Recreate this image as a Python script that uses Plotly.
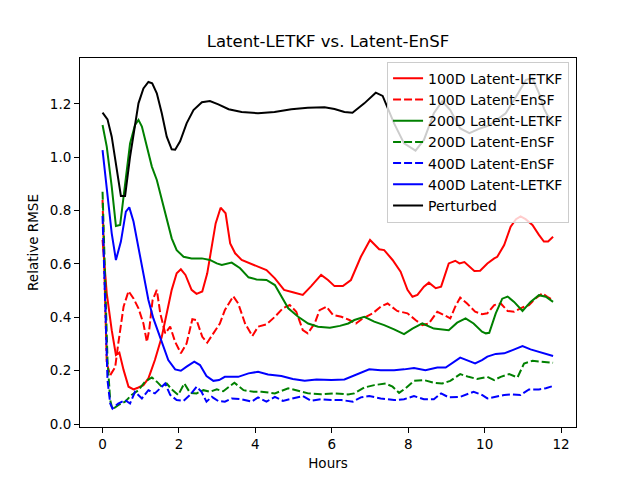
import plotly.graph_objects as go

# 100D Latent-LETKF (red solid)
hours_100_letkf = [0.0, 0.11, 0.24, 0.35, 0.44, 0.55, 0.68, 0.81, 0.94, 1.07, 1.2, 1.37, 1.55, 1.68, 1.81, 1.94,
                   2.05, 2.17, 2.33, 2.46, 2.61, 2.74, 2.86, 2.96, 3.09, 3.22, 3.34, 3.47, 3.64, 3.86, 4.07, 4.29,
                   4.51, 4.75, 4.98, 5.24, 5.46, 5.72, 5.9, 6.07, 6.29, 6.5, 6.76, 7.0, 7.24, 7.37, 7.59, 7.8,
                   7.98, 8.11, 8.24, 8.41, 8.54, 8.72, 8.86, 9.06, 9.23, 9.34, 9.47, 9.73, 9.88, 10.07, 10.25,
                   10.33, 10.51, 10.68, 10.82, 10.94, 11.07, 11.25, 11.42, 11.55, 11.66, 11.79]
rmse_100_letkf = [0.69, 0.49, 0.352, 0.259, 0.268, 0.203, 0.14, 0.13, 0.137, 0.146, 0.171, 0.24, 0.327, 0.415, 0.503,
                  0.565, 0.58, 0.559, 0.503, 0.488, 0.497, 0.565, 0.665, 0.752, 0.811, 0.79, 0.677, 0.64, 0.615,
                  0.602, 0.592, 0.577, 0.546, 0.503, 0.494, 0.484, 0.517, 0.559, 0.54, 0.517, 0.517, 0.54, 0.627,
                  0.69, 0.655, 0.652, 0.615, 0.571, 0.503, 0.477, 0.484, 0.515, 0.53, 0.509, 0.515, 0.602, 0.612,
                  0.602, 0.607, 0.574, 0.575, 0.602, 0.621, 0.627, 0.671, 0.74, 0.768, 0.778, 0.768, 0.746, 0.709,
                  0.684, 0.684, 0.702]

# 100D Latent-EnSF (red dashed)
hours_100_ensf = [0.0, 0.11, 0.2, 0.33, 0.41, 0.55, 0.68, 0.81, 0.94, 1.07, 1.16, 1.22, 1.31, 1.42, 1.51, 1.64,
                  1.77, 1.9, 2.05, 2.2, 2.35, 2.46, 2.61, 2.74, 2.9, 3.07, 3.2, 3.42, 3.55, 3.73, 3.92, 4.07,
                  4.29, 4.51, 4.72, 4.9, 5.07, 5.24, 5.37, 5.55, 5.68, 5.86, 6.03, 6.25, 6.46, 6.63, 6.81, 7.07,
                  7.28, 7.46, 7.71, 7.98, 8.19, 8.37, 8.54, 8.76, 8.93, 9.1, 9.23, 9.36, 9.54, 9.75, 9.93, 10.07,
                  10.25, 10.42, 10.6, 10.77, 10.99, 11.16, 11.33, 11.51, 11.64, 11.79]
rmse_100_ensf = [0.84, 0.228, 0.183, 0.213, 0.3, 0.44, 0.498, 0.471, 0.434, 0.377, 0.308, 0.352, 0.465, 0.503,
                 0.415, 0.34, 0.365, 0.308, 0.265, 0.302, 0.393, 0.39, 0.327, 0.305, 0.34, 0.377, 0.427, 0.479,
                 0.452, 0.377, 0.33, 0.365, 0.374, 0.402, 0.434, 0.446, 0.421, 0.352, 0.34, 0.377, 0.427, 0.44,
                 0.409, 0.402, 0.39, 0.377, 0.396, 0.415, 0.44, 0.452, 0.424, 0.415, 0.39, 0.371, 0.377, 0.421,
                 0.409, 0.396, 0.44, 0.474, 0.452, 0.421, 0.412, 0.415, 0.446, 0.452, 0.424, 0.421, 0.437, 0.446,
                 0.471, 0.49, 0.477, 0.465]

# 200D Latent-LETKF (green solid)
hours_200_letkf = [0.0, 0.11, 0.24, 0.35, 0.46, 0.59, 0.72, 0.85, 0.94, 1.03, 1.16, 1.29, 1.42, 1.55, 1.68, 1.81,
                   1.94, 2.12, 2.33, 2.6, 2.81, 2.99, 3.12, 3.38, 3.6, 3.82, 4.03, 4.29, 4.51, 4.68, 4.86, 5.12,
                   5.38, 5.64, 5.95, 6.21, 6.43, 6.59, 6.85, 7.11, 7.37, 7.63, 7.89, 8.11, 8.37, 8.67, 9.06, 9.28,
                   9.5, 9.71, 9.93, 10.03, 10.12, 10.29, 10.46, 10.6, 10.77, 10.99, 11.2, 11.42, 11.6, 11.79]
rmse_200_letkf = [1.121, 1.04, 0.89, 0.742, 0.746, 0.89, 1.052, 1.121, 1.14, 1.115, 1.04, 0.965, 0.915, 0.84, 0.765,
                  0.696, 0.652, 0.627, 0.621, 0.621, 0.615, 0.602, 0.596, 0.605, 0.584, 0.55, 0.542, 0.54, 0.521,
                  0.477, 0.434, 0.402, 0.377, 0.365, 0.361, 0.368, 0.377, 0.39, 0.402, 0.384, 0.371, 0.355, 0.337,
                  0.358, 0.377, 0.358, 0.352, 0.38, 0.396, 0.377, 0.346, 0.34, 0.342, 0.415, 0.47, 0.478, 0.458,
                  0.424, 0.458, 0.483, 0.477, 0.458]

# 200D Latent-EnSF (green dashed)
hours_200_ensf = [0.0, 0.07, 0.13, 0.2, 0.26, 0.41, 0.59, 0.76, 0.94, 1.11, 1.29, 1.42, 1.55, 1.68, 1.81, 1.98,
                  2.14, 2.29, 2.46, 2.64, 2.81, 2.99, 3.16, 3.34, 3.45, 3.69, 3.95, 4.16, 4.51, 4.86, 5.12, 5.38,
                  5.72, 6.07, 6.42, 6.59, 6.85, 7.11, 7.41, 7.59, 7.76, 7.93, 8.15, 8.41, 8.67, 8.89, 9.1, 9.36,
                  9.58, 9.8, 10.07, 10.25, 10.42, 10.64, 10.86, 11.03, 11.25, 11.46, 11.79]
rmse_200_ensf = [0.871, 0.552, 0.24, 0.09, 0.055, 0.071, 0.084, 0.109, 0.127, 0.159, 0.175, 0.159, 0.14, 0.152,
                 0.13, 0.109, 0.152, 0.117, 0.115, 0.127, 0.121, 0.13, 0.123, 0.143, 0.155, 0.127, 0.121, 0.121,
                 0.115, 0.134, 0.124, 0.115, 0.112, 0.115, 0.111, 0.115, 0.137, 0.146, 0.152, 0.14, 0.117, 0.134,
                 0.162, 0.165, 0.155, 0.152, 0.162, 0.187, 0.177, 0.169, 0.177, 0.165, 0.177, 0.187, 0.175, 0.227,
                 0.237, 0.234, 0.23]

# 400D Latent-EnSF (blue dashed)
hours_400_ensf = [0.0, 0.07, 0.13, 0.2, 0.26, 0.41, 0.59, 0.72, 0.85, 1.03, 1.2, 1.37, 1.51, 1.64, 1.77, 1.94,
                  2.12, 2.29, 2.46, 2.59, 2.72, 2.86, 3.03, 3.2, 3.38, 3.64, 3.9, 4.07, 4.29, 4.51, 4.72, 4.98,
                  5.24, 5.46, 5.72, 5.99, 6.25, 6.55, 6.76, 6.98, 7.28, 7.63, 7.89, 8.15, 8.41, 8.67, 8.86, 9.06,
                  9.36, 9.71, 9.93, 10.07, 10.29, 10.51, 10.73, 10.94, 11.16, 11.42, 11.6, 11.79]
rmse_400_ensf = [0.78, 0.427, 0.165, 0.077, 0.058, 0.077, 0.09, 0.077, 0.121, 0.096, 0.127, 0.115, 0.134, 0.152,
                 0.109, 0.09, 0.087, 0.109, 0.14, 0.121, 0.084, 0.102, 0.086, 0.084, 0.096, 0.093, 0.084, 0.1,
                 0.084, 0.102, 0.087, 0.096, 0.105, 0.087, 0.093, 0.09, 0.09, 0.084, 0.1, 0.105, 0.096, 0.09,
                 0.093, 0.105, 0.093, 0.093, 0.115, 0.1, 0.102, 0.121, 0.109, 0.096, 0.102, 0.109, 0.111, 0.109,
                 0.13, 0.13, 0.134, 0.143]

# 400D Latent-LETKF (blue solid)
hours_400_letkf = [0.0, 0.11, 0.24, 0.35, 0.48, 0.61, 0.7, 0.81, 0.94, 1.07, 1.2, 1.33, 1.46, 1.59, 1.72, 1.9,
                   2.05, 2.2, 2.4, 2.55, 2.72, 2.9, 3.05, 3.2, 3.55, 3.82, 4.07, 4.33, 4.68, 4.98, 5.29, 5.6,
                   5.99, 6.33, 6.55, 6.81, 6.98, 7.28, 7.63, 7.89, 8.15, 8.45, 8.76, 8.98, 9.19, 9.36, 9.58, 9.75,
                   9.93, 10.07, 10.29, 10.51, 10.73, 10.99, 11.2, 11.42, 11.79]
rmse_400_letkf = [1.027, 0.89, 0.715, 0.615, 0.684, 0.796, 0.812, 0.759, 0.665, 0.565, 0.465, 0.396, 0.346, 0.29,
                  0.24, 0.205, 0.2, 0.215, 0.234, 0.221, 0.18, 0.162, 0.165, 0.177, 0.177, 0.19, 0.196, 0.186,
                  0.18, 0.169, 0.162, 0.167, 0.165, 0.167, 0.18, 0.196, 0.205, 0.202, 0.202, 0.205, 0.21, 0.202,
                  0.212, 0.212, 0.234, 0.249, 0.237, 0.227, 0.24, 0.253, 0.263, 0.265, 0.277, 0.292, 0.28, 0.271,
                  0.255]

# Perturbed (black)
hours_perturbed = [0.0, 0.13, 0.24, 0.48, 0.59, 0.72, 0.94, 1.07, 1.2, 1.3, 1.42, 1.55, 1.68, 1.81, 1.9, 2.03,
                   2.2, 2.38, 2.6, 2.81, 3.03, 3.3, 3.64, 4.07, 4.5, 4.94, 5.37, 5.81, 6.07, 6.33, 6.54, 6.85,
                   7.15, 7.33, 7.63, 7.89, 8.19, 8.41, 8.67, 8.89, 9.1, 9.36, 9.6, 9.88, 10.12, 10.55, 10.82,
                   11.08, 11.25, 11.42, 11.55, 11.64, 11.79]
rmse_perturbed = [1.167, 1.142, 1.077, 0.855, 0.855, 1.002, 1.202, 1.258, 1.282, 1.277, 1.24, 1.165, 1.077, 1.03,
                  1.028, 1.06, 1.127, 1.177, 1.206, 1.211, 1.198, 1.18, 1.17, 1.165, 1.17, 1.18, 1.186, 1.187,
                  1.181, 1.17, 1.167, 1.202, 1.242, 1.23, 1.127, 1.052, 1.025, 1.065, 1.165, 1.21, 1.177, 1.108,
                  1.09, 1.108, 1.12, 1.165, 1.227, 1.29, 1.296, 1.24, 1.183, 1.158, 1.13]

series = [
    ("100D Latent-LETKF", hours_100_letkf, rmse_100_letkf, "red", "solid"),
    ("100D Latent-EnSF", hours_100_ensf, rmse_100_ensf, "red", "dash"),
    ("200D Latent-LETKF", hours_200_letkf, rmse_200_letkf, "green", "solid"),
    ("200D Latent-EnSF", hours_200_ensf, rmse_200_ensf, "green", "dash"),
    ("400D Latent-EnSF", hours_400_ensf, rmse_400_ensf, "blue", "dash"),
    ("400D Latent-LETKF", hours_400_letkf, rmse_400_letkf, "blue", "solid"),
    ("Perturbed", hours_perturbed, rmse_perturbed, "black", "solid"),
]

fig = go.Figure()
for name, x, y, color, dash in series:
    fig.add_trace(go.Scatter(
        x=x, y=y, mode="lines", name=name,
        line=dict(color=color, width=2, dash="8px,3px" if dash == "dash" else "solid"),
    ))

axis_style = dict(
    showline=True, linecolor="black", linewidth=1, mirror=True, automargin=False,
    ticks="outside", ticklen=5, tickcolor="black", showgrid=False, zeroline=False,
    tickfont=dict(size=13.5, color="black"),
)

# the page adds an 8px body margin, so margins are set 8px smaller on the left/top
fig.update_layout(
    width=640, height=480,
    margin=dict(l=72, r=72, t=50, b=61),
    paper_bgcolor="white", plot_bgcolor="white",
    font=dict(family="DejaVu Sans", color="black"),
    title=dict(text="Latent-LETKF vs. Latent-EnSF", x=0.5, xanchor="center",
               y=0.918, yanchor="bottom", font=dict(size=16.5)),
    xaxis=dict(title=dict(text="Hours", font=dict(size=13.5), standoff=7),
               range=[-0.59, 12.39], tickvals=[0, 2, 4, 6, 8, 10, 12], **axis_style),
    yaxis=dict(title=dict(text="Relative RMSE", font=dict(size=13.5), standoff=8),
               range=[-0.011, 1.372], tickvals=[0, 0.2, 0.4, 0.6, 0.8, 1.0, 1.2],
               tickformat=".1f", **axis_style),
    legend=dict(x=0.986, y=0.99, xanchor="right", yanchor="top",
                bgcolor="rgba(255,255,255,0.8)", bordercolor="#cccccc", borderwidth=1,
                font=dict(size=14), tracegroupgap=0),
    showlegend=True,
)

fig.write_html("out.html")
